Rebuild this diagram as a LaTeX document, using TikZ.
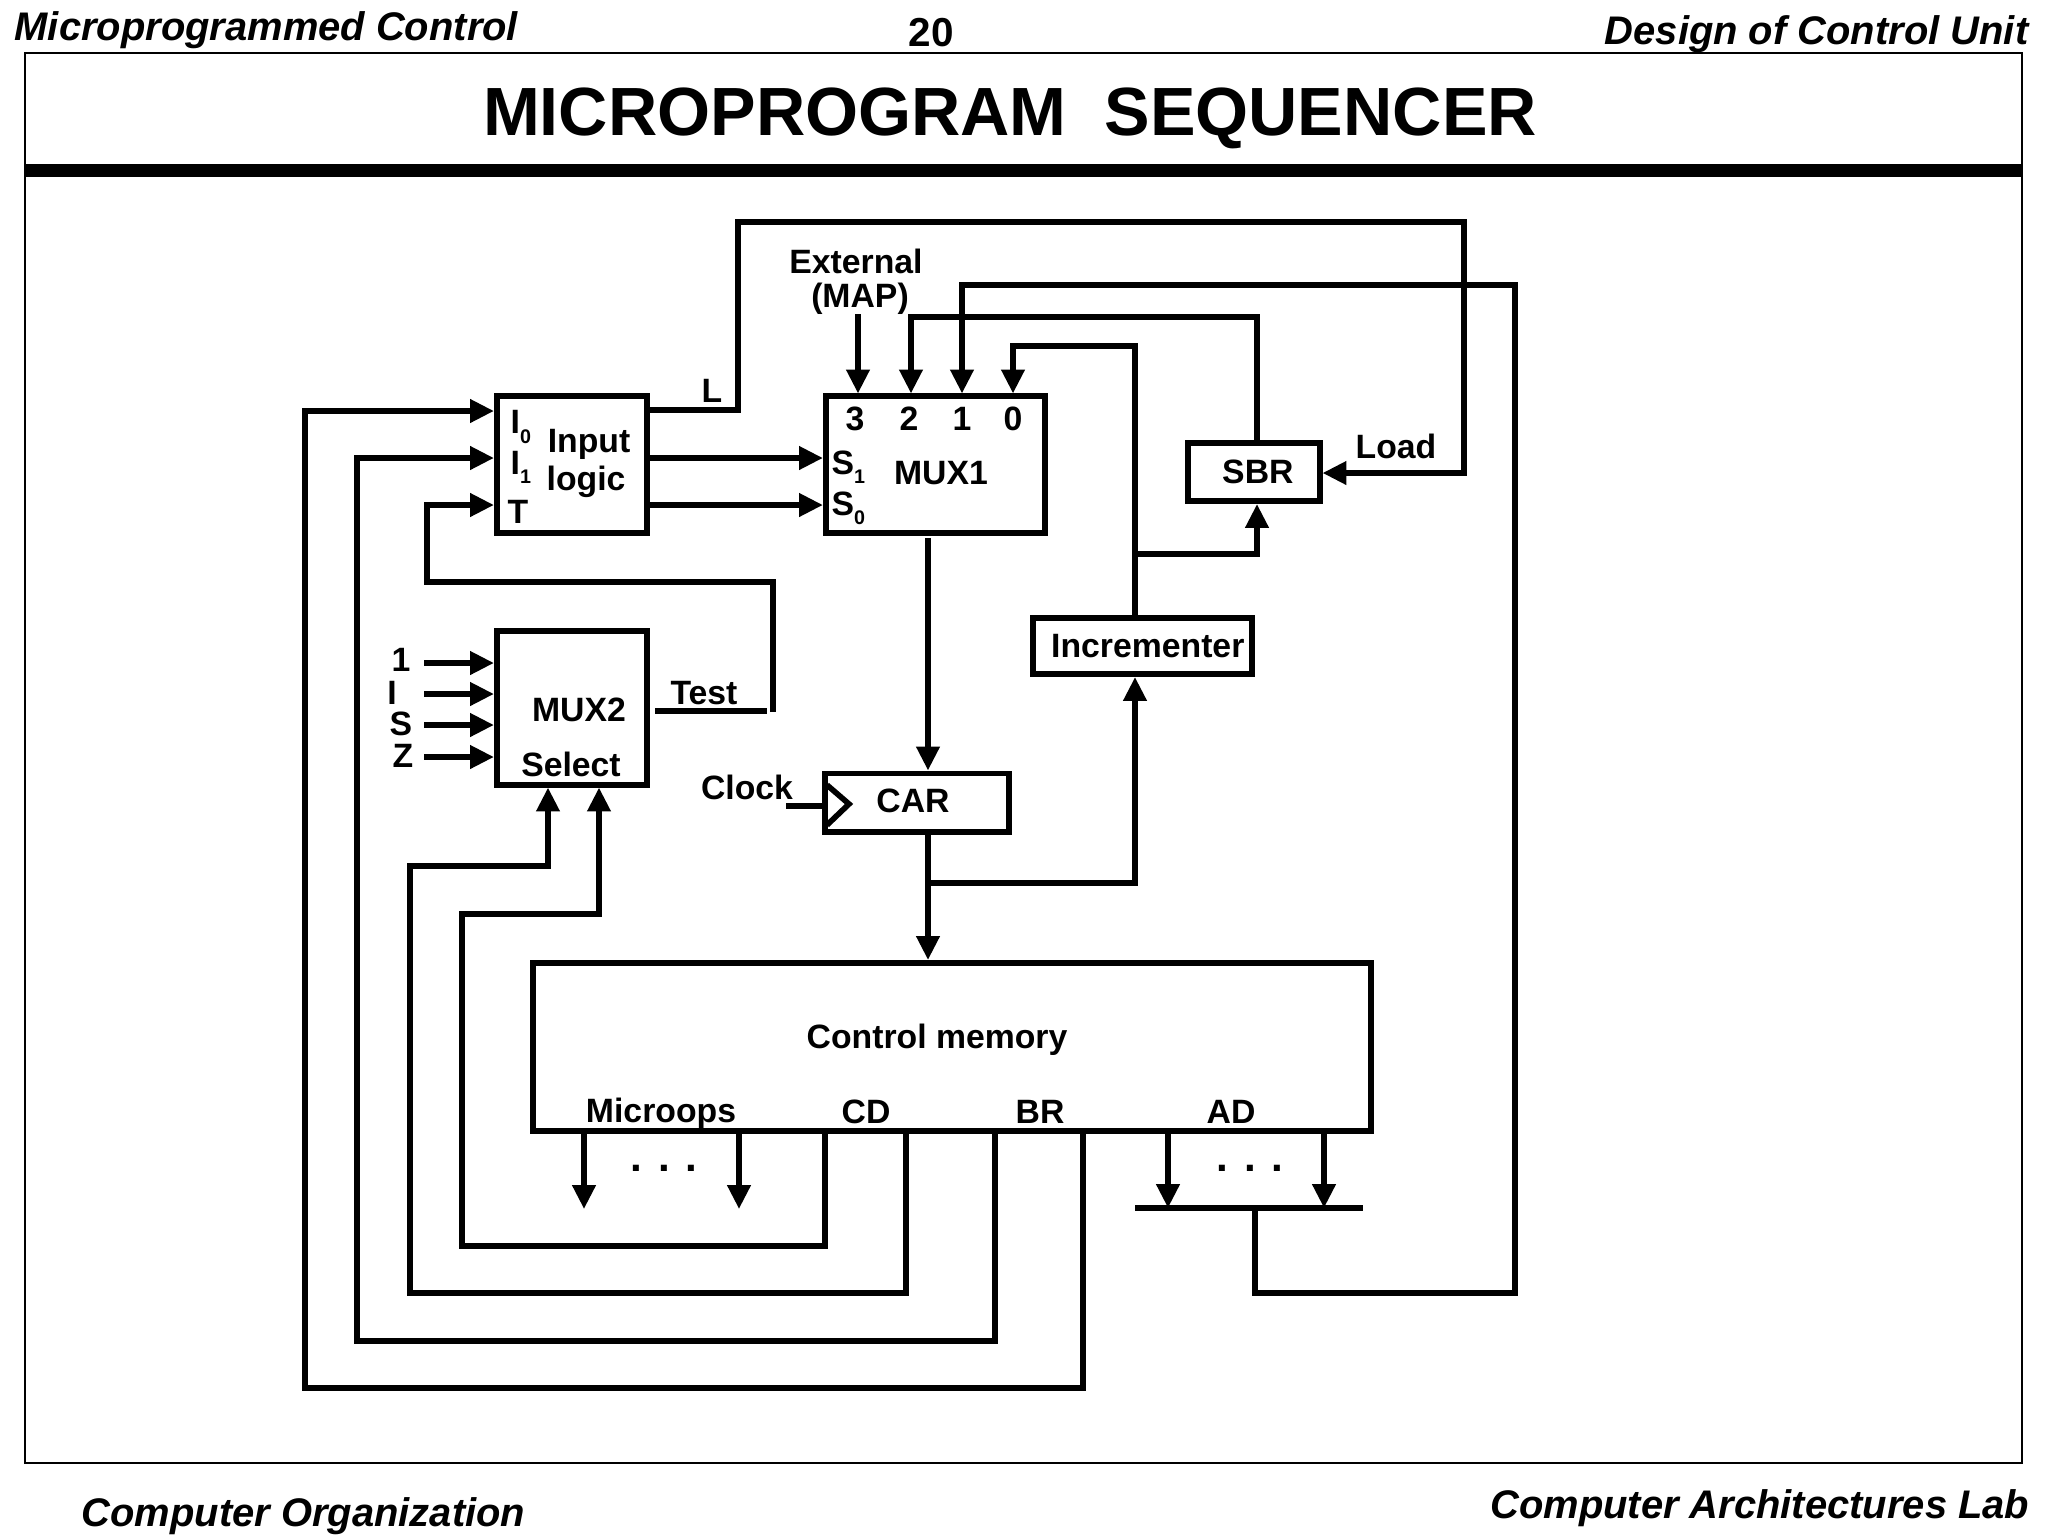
\documentclass[tikz,border=0pt]{standalone}
\usepackage{fontspec}
\setmainfont{Liberation Sans}
\usetikzlibrary{arrows.meta}
\newcommand{\subidx}[1]{\raisebox{-2.6pt}{\fontsize{5.6}{6}\selectfont #1}}
\begin{document}
\begin{tikzpicture}[
    x=0.01cm,y=-0.01cm,
    every node/.style={inner sep=0pt},
    block/.style={draw,line width=1.7pt,font=\fontsize{9.6}{11}\bfseries},
    lbl/.style={font=\fontsize{9.6}{11}\bfseries},
    head/.style={font=\fontsize{11.35}{14}\bfseries\itshape},
    wire/.style={line width=1.6pt},
    feed/.style={wire,-{Triangle[length=6.8pt,width=6.4pt]}}
  ]
  \useasboundingbox (0,0) rectangle (2048,1536);
  % Draw the page frame and the headings.
  \node[head,anchor=west] (hleft) at (14,30) {Microprogrammed Control};
  \node[lbl,font=\fontsize{11.5}{14}\bfseries] (hpage) at (931,33) {20};
  \node[head,anchor=east] (hright) at (2029,34) {Design of Control Unit};
  \draw[line width=0.6pt] (25,53) rectangle (2022,1463);
  \draw[line width=3.6pt] (25,170.5) -- (2022,170.5);
  \node[font=\fontsize{19.4}{24}\bfseries] (title) at (1010,118) {MICROPROGRAM\ \ SEQUENCER};
  \node[head,anchor=west] (fleft) at (81,1516) {Computer Organization};
  \node[head,anchor=east] (fright) at (2030,1508) {Computer Architectures Lab};
  % Draw the blocks.
  \node[block,minimum width=1.5cm,minimum height=1.36cm] (inlogic) at (572,464.5) {};
  \node[block,minimum width=2.19cm,minimum height=1.36cm] (muxone) at (935.5,464.5) {};
  \node[block,minimum width=1.5cm,minimum height=1.53cm] (muxtwo) at (572,708) {};
  \node[block,minimum width=1.83cm,minimum height=0.58cm] (car) at (917,802.5) {};
  \node[block,minimum width=2.19cm,minimum height=0.56cm] (incr) at (1142.5,646) {\hspace*{3pt}Incrementer};
  \node[block,minimum width=1.31cm,minimum height=0.58cm] (sbr) at (1254,472) {\hspace*{2.2pt}SBR};
  \node[block,minimum width=8.38cm,minimum height=1.68cm] (ctrl) at (952,1047) {};
  \coordinate (adbar) at (1255,1208);
  % Draw the labels inside the blocks.
  \node[lbl,anchor=west] (izero) at (510,427) {I\subidx{0}};
  \node[lbl,anchor=west] (ione) at (510,467) {I\subidx{1}};
  \node[lbl] (ttest) at (518,512) {T};
  \node[lbl] (linput) at (589,444) {Input};
  \node[lbl] (llogic) at (586,482) {logic};
  \node[lbl] (pthree) at (855,419) {3};
  \node[lbl] (ptwo) at (909,419) {2};
  \node[lbl] (pone) at (962,419) {1};
  \node[lbl] (pzero) at (1013,419) {0};
  \node[lbl,anchor=west] (sone) at (831,467) {S\subidx{1}};
  \node[lbl,anchor=west] (szero) at (831,508) {S\subidx{0}};
  \node[lbl] (lmuxone) at (941,473) {MUX1};
  \node[lbl] (lmuxtwo) at (579,710) {MUX2};
  \node[lbl] (lselect) at (571,764) {Select};
  \node[lbl] (lcar) at (913,801) {CAR};
  \node[lbl] (lctrl) at (937,1040) {Control memory};
  \node[lbl] (lmicro) at (661,1114) {Microops};
  \node[lbl] (lcd) at (866,1112) {CD};
  \node[lbl] (lbr) at (1040,1112) {BR};
  \node[lbl] (lad) at (1231,1112) {AD};
  % Draw the labels outside the blocks.
  \node[lbl] (lext) at (856,261) {External};
  \node[lbl] (lmap) at (860,299) {(MAP)};
  \node[lbl] (ll) at (712,391) {L};
  \node[lbl] (lload) at (1396,446) {Load};
  \node[lbl] (ltest) at (704,693) {Test};
  \node[lbl] (lclock) at (747,787) {Clock};
  \node[lbl] (lone) at (401,660) {1};
  \node[lbl] (li) at (392,693) {I};
  \node[lbl] (ls) at (401,724) {S};
  \node[lbl] (lz) at (403,756) {Z};
  \node[lbl,font=\fontsize{12}{14}\bfseries] (dotsa) at (664,1168) {.\hspace{4.4pt}.\hspace{4.4pt}.};
  \node[lbl,font=\fontsize{12}{14}\bfseries] (dotsb) at (1250,1168) {.\hspace{4.4pt}.\hspace{4.4pt}.};
  % Draw the inputs of the input logic.
  \draw[feed] (1083,0 |- ctrl.south) -- (1083,1388) -- (305,1388) -- (305,411) -- (inlogic.west |- 0,411);
  \draw[feed] (995,0 |- ctrl.south) -- (995,1341) -- (357,1341) -- (357,458) -- (inlogic.west |- 0,458);
  \draw[feed] (773,712) -- (773,582) -- (427,582) -- (427,505) -- (inlogic.west |- 0,505);
  \draw[wire] (muxtwo.east |- 0,711) ++(5,0) -- (767,711);
  \draw[feed] (inlogic.east |- 0,458) -- (muxone.west |- 0,458);
  \draw[feed] (inlogic.east |- 0,505) -- (muxone.west |- 0,505);
  % Draw the load line.
  \draw[feed] (inlogic.east |- 0,410) -- (738,410) -- (738,222) -- (1464,222) -- (1464,473) -- (sbr.east |- 0,473);
  % Draw the inputs of MUX1.
  \draw[feed] (858,314) -- (858,0 |- muxone.north);
  \draw[feed] (1257,0 |- sbr.north) -- (1257,317) -- (911,317) -- (911,0 |- muxone.north);
  \draw[feed] (adbar) -- (1255,1293) -- (1515,1293) -- (1515,285) -- (962,285) -- (962,0 |- muxone.north);
  \draw[feed] (1135,0 |- incr.north) -- (1135,346) -- (1013,346) -- (1013,0 |- muxone.north);
  \draw[feed] (1135,554) -- (1257,554) -- (1257,0 |- sbr.south);
  % Draw the address path.
  \draw[feed] (928,538) -- (928,0 |- car.north);
  \draw[feed] (928,0 |- car.south) -- (928,0 |- ctrl.north);
  \draw[feed] (928,883) -- (1135,883) -- (1135,0 |- incr.south);
  \draw[wire] (786,806) -- (car.west |- 0,806);
  \draw[wire] (827,785) -- (849,804) -- (827,825);
  % Draw the inputs of MUX2.
  \draw[feed] (424,663) -- (muxtwo.west |- 0,663);
  \draw[feed] (424,694) -- (muxtwo.west |- 0,694);
  \draw[feed] (424,725) -- (muxtwo.west |- 0,725);
  \draw[feed] (424,757) -- (muxtwo.west |- 0,757);
  \draw[feed] (906,0 |- ctrl.south) -- (906,1293) -- (410,1293) -- (410,866) -- (548,866) -- (548,0 |- muxtwo.south);
  \draw[feed] (825,0 |- ctrl.south) -- (825,1246) -- (462,1246) -- (462,914) -- (599,914) -- (599,0 |- muxtwo.south);
  % Draw the outputs of the control memory.
  \draw[feed] (584,0 |- ctrl.south) -- (584,1209);
  \draw[feed] (739,0 |- ctrl.south) -- (739,1209);
  \draw[feed] (1168,0 |- ctrl.south) -- (1168,0 |- adbar);
  \draw[feed] (1324,0 |- ctrl.south) -- (1324,0 |- adbar);
  \draw[wire] (1135,0 |- adbar) -- (1363,0 |- adbar);
\end{tikzpicture}
\end{document}
